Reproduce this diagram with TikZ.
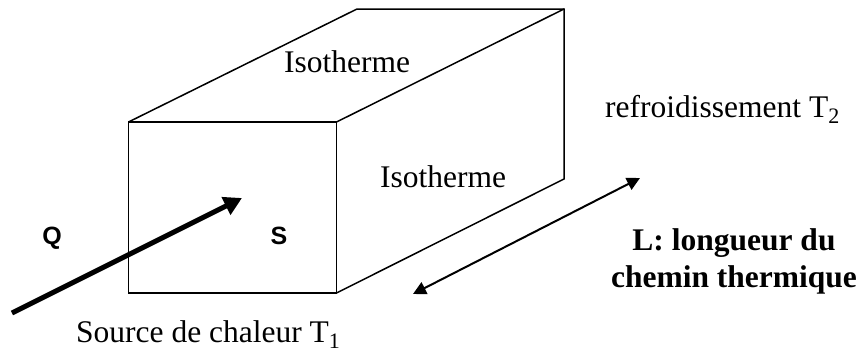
\documentclass[tikz,border=0pt]{standalone}
\usepackage{fontspec}
\setmainfont{Liberation Serif}
\newfontfamily\arialfont{Liberation Sans}
\usetikzlibrary{arrows.meta}
\tikzset{
  edgeline/.style={line width=1.5pt,line join=miter},
  lbl/.style={inner sep=0pt,anchor=base west,font=\fontsize{31.5}{36}\selectfont},
  boldlbl/.style={inner sep=0pt,anchor=base,font=\fontsize{31.5}{36}\selectfont\bfseries},
  sanslbl/.style={inner sep=0pt,anchor=base,font=\fontsize{25}{30}\selectfont\arialfont\bfseries},
  heat/.style={line width=5pt,-{Triangle[length=18pt,width=19pt]}},
  span/.style={line width=2pt,{Triangle[length=13pt,width=13pt]}-{Triangle[length=13pt,width=13pt]}}
}
\begin{document}
\begin{tikzpicture}[x=1pt,y=-1pt]
\useasboundingbox (0,0) rectangle (863,351);
\coordinate (ftl) at (128.5,122);
\coordinate (ftr) at (336.5,122);
\coordinate (fbr) at (336.5,293);
\coordinate (fbl) at (128.5,293);
\coordinate (btl) at (357,9);
\coordinate (btr) at (564,9);
\coordinate (bbr) at (564,179);
\coordinate (heatA) at (12,313);
\coordinate (heatB) at (242,198);
\coordinate (spanA) at (413,294);
\coordinate (spanB) at (640,178);
\draw[edgeline] (ftl) -- (ftr) -- (fbr) -- (fbl) -- cycle;
\draw[edgeline] (ftl) -- (btl) -- (btr) -- (bbr) -- (fbr);
\draw[edgeline] (ftr) -- (btr);
\draw[heat] (heatA) -- (heatB);
\draw[span] (spanA) -- (spanB);
\node[lbl] (iso1) at (284,72.5) {Isotherme};
\node[lbl] (iso2) at (380,187) {Isotherme};
\node[lbl] (refr) at (605,117) {refroidissement T\textsubscript{2}};
\node[lbl] (src) at (76,342.5) {Source de chaleur T\textsubscript{1}};
\node[boldlbl] (long1) at (734,250) {L: longueur du};
\node[boldlbl] (long2) at (734,287) {chemin thermique};
\node[sanslbl] (q) at (52,244.5) {Q};
\node[sanslbl] (s) at (279,244.5) {S};
\end{tikzpicture}
\end{document}
